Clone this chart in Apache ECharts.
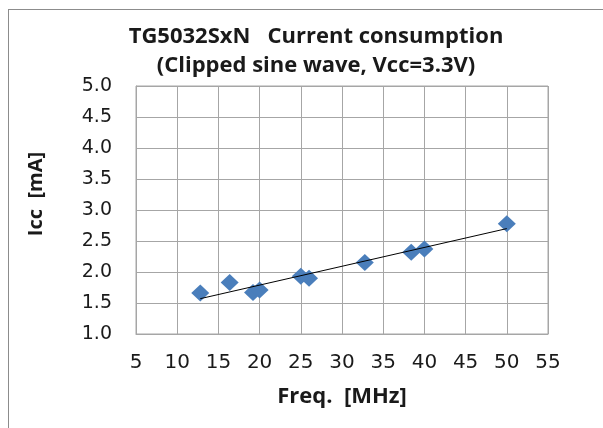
<!DOCTYPE html>
<html>
<head>
    <meta charset="utf-8">
    <title>TG5032SxN Current consumption</title>
    <script src="https://cdn.jsdelivr.net/npm/echarts@6/dist/echarts.min.js"></script>
    <style>
        html, body { margin: 0; padding: 0; background: #fff; }
        #frame { position: absolute; left: 8px; top: 9px; width: 620px; height: 440px;
                 border: 1px solid #8c8c8c; box-sizing: border-box; }
        #chart { position: absolute; left: 0; top: 0; width: 603px; height: 428px; }
    </style>
</head>
<body>
<div id="frame"></div>
<div id="chart"></div>
<script type="text/javascript">
    // 测量点 (MHz, mA)
    var freq = [12.8, 16.367, 19.2, 20, 25, 26, 32.768, 38.4, 40, 50];
    var icc = [1.66, 1.83, 1.67, 1.71, 1.93, 1.90, 2.155, 2.32, 2.37, 2.78];
    // 近似直线 两端
    var trendX = [12.8, 50];
    var trendY = [1.57, 2.70];

    var xTicks = [5, 10, 15, 20, 25, 30, 35, 40, 45, 50, 55];
    var yTicks = [1.0, 1.5, 2.0, 2.5, 3.0, 3.5, 4.0, 4.5, 5.0];

    var points = freq.map(function (f, i) { return [f, icc[i]]; });
    var trend = trendX.map(function (f, i) { return [f, trendY[i]]; });

    var myChart = echarts.init(document.getElementById('chart'));
    myChart.setOption({
        animation: false,
        title: {
            text: 'TG5032SxN   Current consumption\n(Clipped sine wave, Vcc=3.3V)',
            left: 311,
            textAlign: 'center',
            top: 17,
            textStyle: {
                fontFamily: 'Open Sans',
                fontWeight: 'bold',
                fontSize: 22,
                lineHeight: 29,
                color: '#1a1a1a'
            }
        },
        grid: {
            left: 136,
            right: 55,
            top: 86,
            bottom: 94,
            show: true,
            borderColor: '#a6a6a6',
            borderWidth: 1
        },
        xAxis: {
            type: 'value',
            min: xTicks[0],
            max: xTicks[xTicks.length - 1],
            interval: 5,
            name: 'Freq.  [MHz]',
            nameLocation: 'middle',
            nameGap: 52,
            nameTextStyle: { fontFamily: 'Open Sans', fontWeight: 'bold', fontSize: 22, color: '#1a1a1a' },
            axisLine: { lineStyle: { color: '#a6a6a6' } },
            axisTick: { show: false },
            axisLabel: { fontFamily: 'DejaVu Sans', fontSize: 20, color: '#1a1a1a', margin: 19 },
            splitLine: { lineStyle: { color: '#a6a6a6' } }
        },
        yAxis: {
            type: 'value',
            min: yTicks[0],
            max: yTicks[yTicks.length - 1],
            interval: 0.5,
            name: 'Icc  [mA]',
            nameLocation: 'middle',
            nameGap: 90,
            nameTextStyle: {
                fontFamily: 'Open Sans', fontWeight: 'bold', fontSize: 20, color: '#1a1a1a',
                padding: [0, 0, 0, 32]
            },
            axisLine: { show: true, lineStyle: { color: '#a6a6a6' } },
            axisTick: { show: false },
            axisLabel: {
                fontFamily: 'DejaVu Sans', fontSize: 19, color: '#1a1a1a', margin: 24,
                formatter: function (v) { return v.toFixed(1); }
            },
            splitLine: { lineStyle: { color: '#a6a6a6' } }
        },
        series: [{
            type: 'line',
            data: trend,
            symbol: 'none',
            lineStyle: { color: '#000', width: 1 },
            z: 3
        }, {
            type: 'scatter',
            data: points,
            symbol: 'diamond',
            symbolSize: [18, 17],
            itemStyle: { color: '#4a7ebb', opacity: 1 },
            z: 2
        }]
    });
</script>
</body>
</html>
